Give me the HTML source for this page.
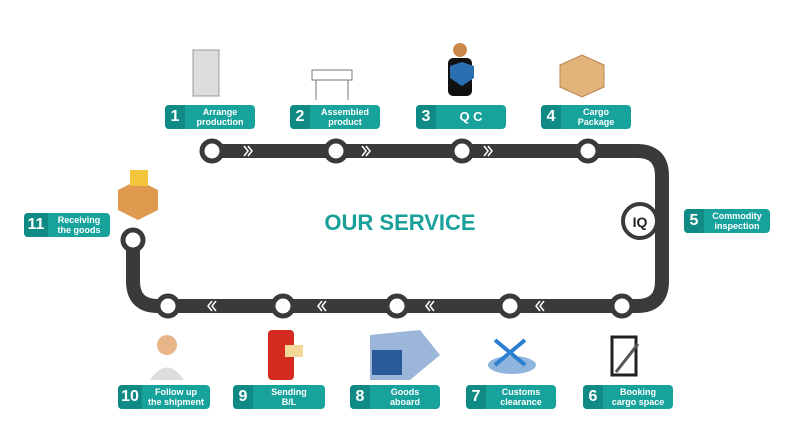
<!DOCTYPE html>
<html><head><style>
body{margin:0;width:800px;height:434px;background:#fff;position:relative;overflow:hidden;font-family:"Liberation Sans",sans-serif}
.b{position:absolute;height:24px;border-radius:4px;background:#17a39c;color:#fff;display:flex;align-items:center;overflow:hidden}
.b .n{background:#0f8a84;height:100%;width:20px;display:flex;align-items:center;justify-content:center;font-weight:bold;font-size:16px}
.b .t{flex:1;text-align:center;font-size:9px;font-weight:bold;line-height:10px}
.title{position:absolute;left:300px;top:210px;width:200px;text-align:center;color:#1aa09a;font-weight:bold;font-size:22px}
</style></head><body>
<svg width="800" height="434" style="position:absolute;left:0;top:0">
<path d="M212 151 H637 Q662 151 662 176 V281 Q662 306 637 306 H158 Q133 306 133 281 V240" fill="none" stroke="#3a3a3a" stroke-width="14"/>
<g fill="none" stroke="#fff" stroke-width="1.5">
<path d="M244 146 l4 5 -4 5 M248 146 l4 5 -4 5"/><path d="M362 146 l4 5 -4 5 M366 146 l4 5 -4 5"/><path d="M484 146 l4 5 -4 5 M488 146 l4 5 -4 5"/>
<path d="M212 301 l-4 5 4 5 M216 301 l-4 5 4 5"/><path d="M322 301 l-4 5 4 5 M326 301 l-4 5 4 5"/><path d="M430 301 l-4 5 4 5 M434 301 l-4 5 4 5"/><path d="M540 301 l-4 5 4 5 M544 301 l-4 5 4 5"/>
</g>
<g fill="#fff" stroke="#3a3a3a" stroke-width="5">
<circle cx="212" cy="151" r="10"/><circle cx="336" cy="151" r="10"/><circle cx="462" cy="151" r="10"/><circle cx="588" cy="151" r="10"/>
<circle cx="622" cy="306" r="10"/><circle cx="510" cy="306" r="10"/><circle cx="397" cy="306" r="10"/><circle cx="283" cy="306" r="10"/><circle cx="168" cy="306" r="10"/>
<circle cx="133" cy="240" r="10"/>
<circle cx="640" cy="221" r="17" stroke-width="4"/>
</g>
<text x="640" y="227" text-anchor="middle" font-size="14" font-weight="bold" fill="#222" font-family="Liberation Sans">IQ</text>
<!-- icons -->
<rect x="193" y="50" width="26" height="46" fill="#ddd" stroke="#999"/>
<path d="M312 70 h40 v10 h-40z M316 80 v20 M348 80 v20" fill="none" stroke="#777"/>
<circle cx="460" cy="50" r="7" fill="#c98a4a"/><rect x="448" y="58" width="24" height="38" rx="5" fill="#111"/><path d="M462 62 l12 4 v12 l-12 8 -12-8 v-12z" fill="#2a6fb0"/>
<path d="M560 65 l22-10 22 10 v22 l-22 10 -22-10z" fill="#e2b47a" stroke="#b88650"/>
<path d="M118 190 l20-10 20 10 v20 l-20 10 -20-10z" fill="#e09a50"/><rect x="130" y="170" width="18" height="16" fill="#f3c53a"/>
<circle cx="167" cy="345" r="10" fill="#e8b48a"/><path d="M150 380 q17-25 34 0z" fill="#ddd"/>
<rect x="268" y="330" width="26" height="50" rx="4" fill="#d42a1f"/><path d="M285 345 h18 v12 h-18z" fill="#f1d79a"/>
<path d="M370 335 l50 -5 20 25 -30 25 h-40z" fill="#9bb6d8"/><rect x="372" y="350" width="30" height="25" fill="#2b5a9b"/>
<ellipse cx="512" cy="365" rx="24" ry="9" fill="#8fb4de"/><path d="M495 340 l30 25 M525 340 l-30 25" stroke="#2a7fd0" stroke-width="4"/>
<rect x="612" y="337" width="24" height="38" fill="#fff" stroke="#222" stroke-width="3"/><path d="M616 372 l22-28" stroke="#555" stroke-width="3"/>
</svg>
<div class="title">OUR SERVICE</div>
<div class="b" style="left:165px;top:105px;width:90px"><div class="n">1</div><div class="t">Arrange<br>production</div></div>
<div class="b" style="left:290px;top:105px;width:90px"><div class="n">2</div><div class="t">Assembled<br>product</div></div>
<div class="b" style="left:416px;top:105px;width:90px"><div class="n">3</div><div class="t" style="font-size:13px">Q C</div></div>
<div class="b" style="left:541px;top:105px;width:90px"><div class="n">4</div><div class="t">Cargo<br>Package</div></div>
<div class="b" style="left:684px;top:209px;width:86px"><div class="n">5</div><div class="t">Commodity<br>inspection</div></div>
<div class="b" style="left:583px;top:385px;width:90px"><div class="n">6</div><div class="t">Booking<br>cargo space</div></div>
<div class="b" style="left:466px;top:385px;width:90px"><div class="n">7</div><div class="t">Customs<br>clearance</div></div>
<div class="b" style="left:350px;top:385px;width:90px"><div class="n">8</div><div class="t">Goods<br>aboard</div></div>
<div class="b" style="left:233px;top:385px;width:92px"><div class="n">9</div><div class="t">Sending<br>B/L</div></div>
<div class="b" style="left:118px;top:385px;width:92px"><div class="n" style="width:24px">10</div><div class="t">Follow up<br>the shipment</div></div>
<div class="b" style="left:24px;top:213px;width:86px"><div class="n" style="width:24px">11</div><div class="t">Receiving<br>the goods</div></div>
</body></html>
